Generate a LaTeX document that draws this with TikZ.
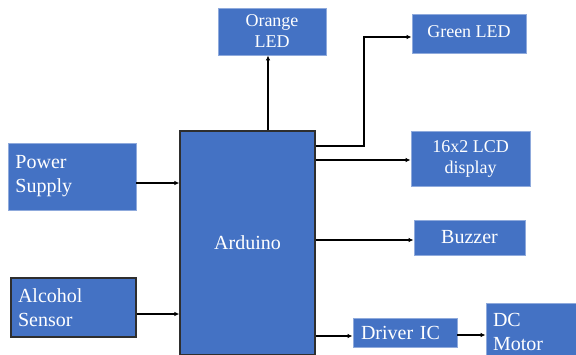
\documentclass[tikz,border=0pt]{standalone}
\usepackage{fontspec}
\setmainfont{Liberation Serif}
\usetikzlibrary{arrows.meta}
\definecolor{boxblue}{HTML}{4472C4}
\definecolor{lightedge}{HTML}{8FAADC}
\definecolor{darkedge}{HTML}{2E2E2E}
\tikzset{
  blk/.style={fill=boxblue, draw=lightedge, line width=0.8pt, text=white, inner sep=0pt, align=center},
  darkblk/.style={blk, draw=darkedge, line width=1.2pt},
  fsmall/.style={font=\rmfamily\fontsize{18}{21}\selectfont},
  fbig/.style={font=\rmfamily\fontsize{20}{24}\selectfont},
  conn/.style={draw=black, line width=1.5pt, -{Latex[length=5pt,width=4.5pt]}}
}
\begin{document}
\begin{tikzpicture}[x=1pt,y=-1pt]
\useasboundingbox (0,0) rectangle (576,354);
% boxes
\node[blk,fsmall,minimum width=108pt,minimum height=47pt] (orange) at (272,31.5) {Orange\\LED};
\node[blk,fsmall,minimum width=114pt,minimum height=39pt,text depth=4pt] (green) at (469,33.5) {Green LED};
\node[blk,fsmall,minimum width=119pt,minimum height=55pt] (lcd) at (470.5,158.5) {16x2 LCD\\display};
\node[blk,fbig,minimum width=111pt,minimum height=35pt] (buzzer) at (469.5,237.5) {Buzzer};
\node[darkblk,fbig,minimum width=135pt,minimum height=224pt] (ard) at (247.5,243) {Arduino};
\node[blk,fbig,minimum width=128pt,minimum height=67pt,text width=113pt,align=left] (power) at (72,176.5) {Power\\Supply};
\node[darkblk,fbig,minimum width=125pt,minimum height=59pt,text width=111pt,align=left] (alc) at (73.5,307.5) {Alcohol\\Sensor};
\node[blk,fbig,minimum width=104pt,minimum height=29pt,text width=88pt,align=left] (driver) at (405,332.5) {Driver IC};
\node[blk,fbig,minimum width=92pt,minimum height=57pt,text width=78pt,align=left] (motor) at (532,331.5) {DC\\Motor};
% connectors
\coordinate (gbend1) at (364,146);
\coordinate (gbend2) at (364,37);
\draw[conn] (ard.north -| 268,0) -- (orange.south -| 268,0);
\draw[conn] (ard.east |- 0,146) -- (gbend1) -- (gbend2) -- (green.west |- 0,37);
\draw[conn] (ard.east |- 0,160) -- (lcd.west |- 0,160);
\draw[conn] (ard.east |- 0,240) -- (buzzer.west |- 0,240);
\draw[conn] (ard.east |- 0,336) -- (driver.west |- 0,336);
\draw[conn] (driver.east |- 0,335) -- (motor.west |- 0,335);
\draw[conn] (power.east |- 0,183) -- (ard.west |- 0,183);
\draw[conn] (alc.east |- 0,314) -- (ard.west |- 0,314);
\end{tikzpicture}
\end{document}
